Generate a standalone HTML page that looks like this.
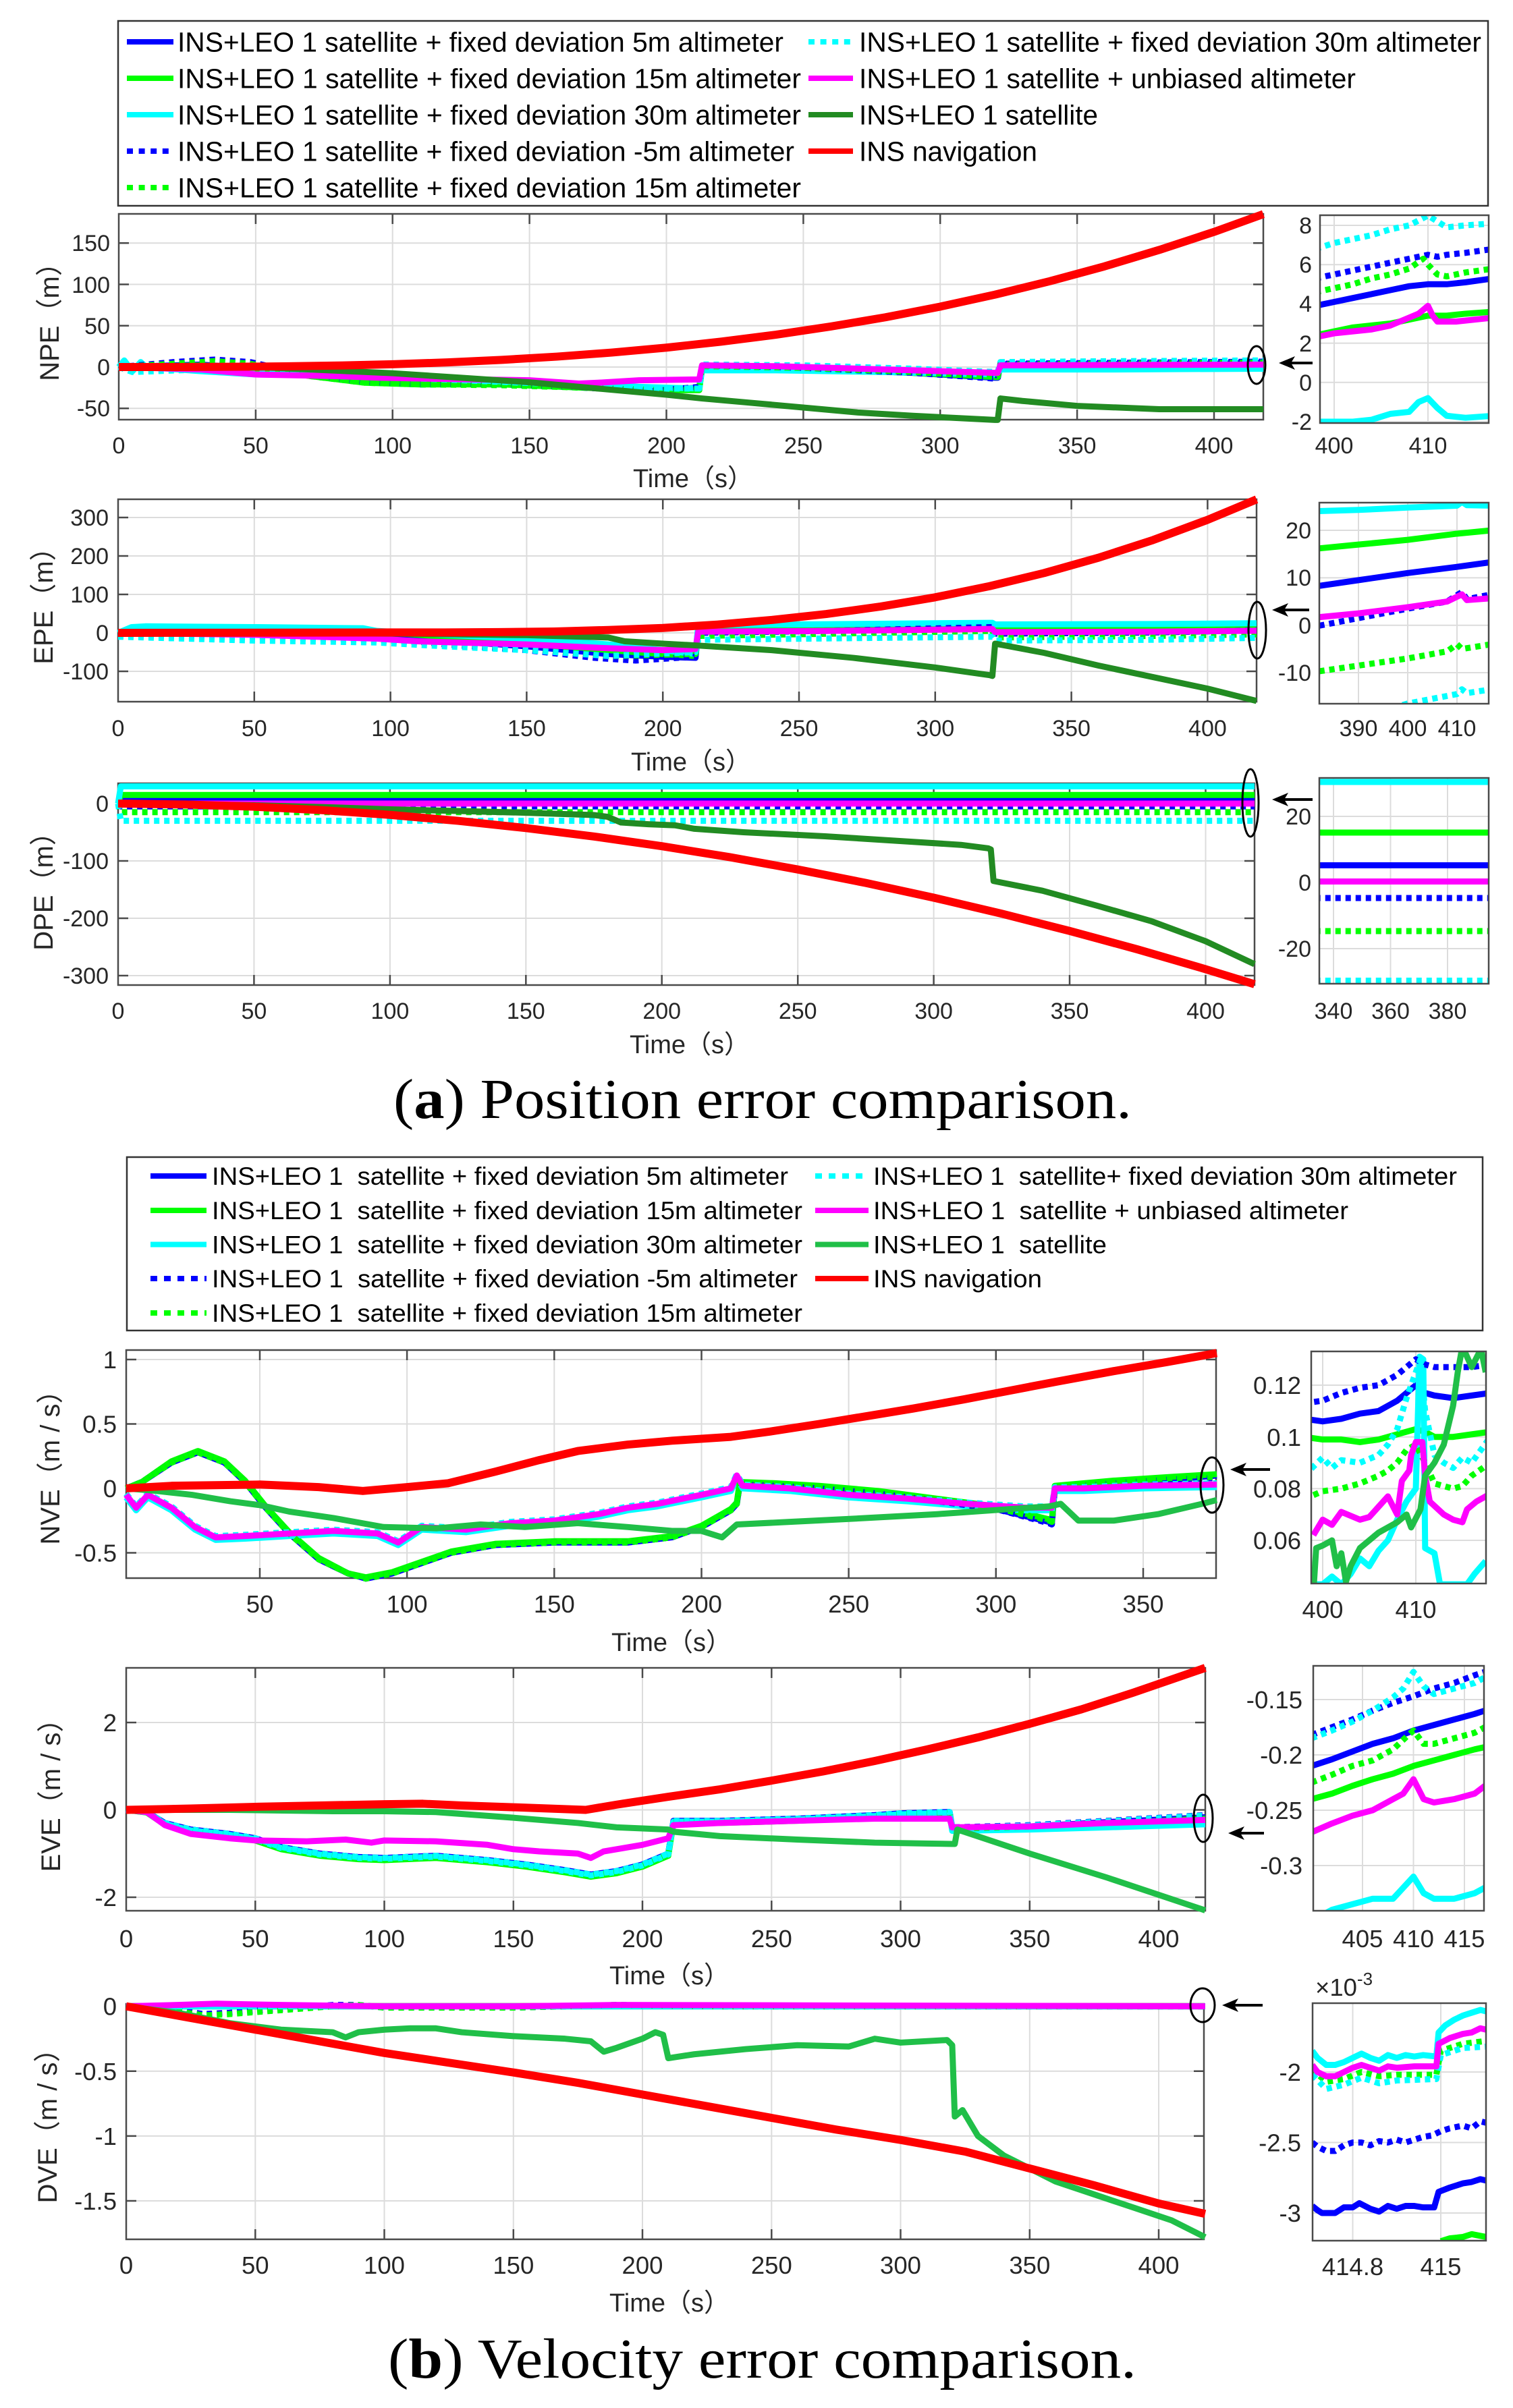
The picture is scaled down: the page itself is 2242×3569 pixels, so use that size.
<!DOCTYPE html>
<html><head><meta charset="utf-8">
<style>
html,body{margin:0;padding:0;background:#fff;}
svg{display:block;}
.gr{fill:none;stroke:#dcdcdc;stroke-width:2}
.ax{fill:none;stroke:#4a4a4a;stroke-width:2.5}
.tk{fill:none;stroke:#4a4a4a;stroke-width:2.5}
.c{fill:none;vector-effect:non-scaling-stroke;stroke-linejoin:round;stroke-width:9}
.d{stroke-dasharray:8 7}
.r{stroke-width:12}
.B{stroke:#0000ff}.G{stroke:#00ff00}.C{stroke:#00ffff}.M{stroke:#ff00ff}.R{stroke:#ff0000}.DG{stroke:#228b22}.VG{stroke:#20bf48}
.t1{font-family:"Liberation Sans",sans-serif;font-size:34px;fill:#262626}
.t2{font-family:"Liberation Sans",sans-serif;font-size:36.5px;fill:#262626}
.yl{font-family:"Liberation Sans","Noto Sans CJK SC",sans-serif;font-size:40px;fill:#262626}
.lg1{font-family:"Liberation Sans",sans-serif;font-size:40.5px;fill:#000;white-space:pre}
.lg2{font-family:"Liberation Sans",sans-serif;font-size:37px;fill:#000;white-space:pre}
.cap{font-family:"Liberation Serif",serif;font-size:84px;fill:#000}
.lgl{stroke-width:8;fill:none}
</style></head>
<body>
<svg xmlns="http://www.w3.org/2000/svg" width="2242" height="3569" viewBox="0 0 2242 3569">
<rect width="2242" height="3569" fill="#fff"/>
<defs>
<clipPath id="k1"><rect x="1956" y="319" width="250" height="308"/></clipPath>
<clipPath id="k2"><rect x="1955" y="745" width="251" height="298"/></clipPath>
<clipPath id="k3"><rect x="1955" y="1153" width="251" height="305"/></clipPath>
<clipPath id="k4"><rect x="1943" y="2003" width="259" height="344"/></clipPath>
<clipPath id="k5"><rect x="1946" y="2469" width="253" height="363"/></clipPath>
<clipPath id="k6"><rect x="1945" y="2969" width="257" height="352"/></clipPath>
</defs>

<!-- ============ LEGEND (a) ============ -->
<rect x="175" y="31" width="2030" height="274" fill="#fff" stroke="#333" stroke-width="2.5"/>
<line x1="188" y1="62" x2="257" y2="62" class="lgl" stroke="#0000ff"/>
<line x1="188" y1="116" x2="257" y2="116" class="lgl" stroke="#00ff00"/>
<line x1="188" y1="170" x2="257" y2="170" class="lgl" stroke="#00ffff"/>
<line x1="188" y1="224" x2="257" y2="224" class="lgl" stroke="#0000ff" stroke-dasharray="9 8.6"/>
<line x1="188" y1="278" x2="257" y2="278" class="lgl" stroke="#00ff00" stroke-dasharray="9 8.6"/>
<line x1="1198" y1="62" x2="1264" y2="62" class="lgl" stroke="#00ffff" stroke-dasharray="9 8.6"/>
<line x1="1198" y1="116" x2="1264" y2="116" class="lgl" stroke="#ff00ff"/>
<line x1="1198" y1="170" x2="1264" y2="170" class="lgl" stroke="#228b22"/>
<line x1="1198" y1="224" x2="1264" y2="224" class="lgl" stroke="#ff0000"/>
<text class="lg1" x="263" y="76.5" textLength="898" lengthAdjust="spacingAndGlyphs">INS+LEO 1 satellite + fixed deviation 5m altimeter</text>
<text class="lg1" x="263" y="130.5" textLength="924" lengthAdjust="spacingAndGlyphs">INS+LEO 1 satellite + fixed deviation 15m altimeter</text>
<text class="lg1" x="263" y="184.5" textLength="924" lengthAdjust="spacingAndGlyphs">INS+LEO 1 satellite + fixed deviation 30m altimeter</text>
<text class="lg1" x="263" y="238.5" textLength="914" lengthAdjust="spacingAndGlyphs">INS+LEO 1 satellite + fixed deviation -5m altimeter</text>
<text class="lg1" x="263" y="292.5" textLength="924" lengthAdjust="spacingAndGlyphs">INS+LEO 1 satellite + fixed deviation 15m altimeter</text>
<text class="lg1" x="1273" y="76.5" textLength="922" lengthAdjust="spacingAndGlyphs">INS+LEO 1 satellite + fixed deviation 30m altimeter</text>
<text class="lg1" x="1273" y="130.5" textLength="736" lengthAdjust="spacingAndGlyphs">INS+LEO 1 satellite + unbiased altimeter</text>
<text class="lg1" x="1273" y="184.5" textLength="354" lengthAdjust="spacingAndGlyphs">INS+LEO 1 satellite</text>
<text class="lg1" x="1273" y="238.5" textLength="264" lengthAdjust="spacingAndGlyphs">INS navigation</text>

<!-- ============ NPE ============ -->
<path class="gr" d="M378.9 317V622M581.7 317V622M784.6 317V622M987.5 317V622M1190.4 317V622M1393.2 317V622M1596.1 317V622M1799 317V622M176 360.25H1872M176 421.5H1872M176 482.75H1872M176 544H1872M176 605.25H1872"/>
<rect class="ax" x="176" y="317" width="1696" height="305"/>
<path class="tk" d="M378.9 622v-15M581.7 622v-15M784.6 622v-15M987.5 622v-15M1190.4 622v-15M1393.2 622v-15M1596.1 622v-15M1799 622v-15M378.9 317v15M581.7 317v15M784.6 317v15M987.5 317v15M1190.4 317v15M1393.2 317v15M1596.1 317v15M1799 317v15M176 360.25h15M176 421.5h15M176 482.75h15M176 544h15M176 605.25h15M1872 360.25h-15M1872 421.5h-15M1872 482.75h-15M1872 544h-15M1872 605.25h-15"/>
<g transform="translate(176,544) scale(4.0574,-1.225)">
<polyline class="c B" points="0,0 30,3 50,-2 70,-10 90,-17 110,-20 140,-21 170,-24 200,-27 212,-25 213,1 250,-2 290,-7 320,-13 321,-13 322,3 360,3.5 400,4 418,5"/>
<polyline class="c G" points="0,0 30,2 50,-2 70,-11 90,-19 110,-21 140,-21 170,-25 200,-28 212,-28 213,0.5 250,-2 290,-7 320,-12 321,-12 322,2 418,3.5"/>
<polyline class="c C" points="0,0 2,8 5,-5 8,6 10,0 30,-5 50,-9 80,-10 100,-12 130,-16 160,-20 190,-24 212,-26 213,-4 240,-4 280,-6 320,-9 321,-9 322,-3 360,-3 418,-2"/>
<polyline class="c d B" points="0,0 20,6 35,9 48,6 70,-10 90,-18 110,-21 140,-21 170,-25 195,-29 212,-24 213,2 250,-1 290,-7 320,-14 321,-14 322,4 360,5 418,6.5"/>
<polyline class="c d G" points="0,0 20,4 35,7 48,4 70,-11 90,-19 110,-21 140,-22 170,-25 200,-28 212,-27 213,1 250,-1 290,-6 320,-12 321,-12 322,3 418,5.5"/>
<polyline class="c d C" points="0,0 5,-6 30,-3 50,-6 80,-11 110,-14 140,-18 170,-22 200,-26 212,-26 213,3 250,2 290,-2 320,-6 321,-6 322,6 360,7 418,8"/>
<polyline class="c M" points="0,0 30,-3 50,-9 80,-11 95,-13 130,-15 150,-16 168,-20 175,-19 190,-16 212,-15 213,2 240,1 280,-3 320,-7 321,-7 322,2 360,2.5 418,3"/>
<polyline class="c DG" points="0,0 20,0 40,0 50,0 70,-3 100,-7.5 125,-13 150,-18.5 175,-26 200,-33.5 213,-38 230,-43 270,-55 290,-59 320,-64 321,-64 322,-38 330,-41 350,-47 380,-51 418,-51"/>
<polyline class="c r R" points="0,0 20,0.04 40,0.26 60,0.81 80,1.8 100,3.4 120,5.6 140,8.7 160,12.6 180,17.5 200,23.5 220,30.7 240,39.1 260,49 280,60.2 300,73.1 320,87.6 340,103.8 360,121.8 380,141.7 400,163.5 418,185"/>
</g>
<g class="t1" text-anchor="end">
<text x="163" y="372">150</text><text x="163" y="434">100</text><text x="163" y="495">50</text><text x="163" y="556">0</text><text x="163" y="617">-50</text>
</g>
<g class="t1" text-anchor="middle">
<text x="176" y="672">0</text><text x="378.9" y="672">50</text><text x="581.7" y="672">100</text><text x="784.6" y="672">150</text><text x="987.5" y="672">200</text><text x="1190.4" y="672">250</text><text x="1393.2" y="672">300</text><text x="1596.1" y="672">350</text><text x="1799" y="672">400</text>
</g>
<text class="yl" text-anchor="middle" transform="translate(87,467) rotate(-90)">NPE（m）</text>
<text class="yl" text-anchor="middle" x="1027" y="722" style="font-size:38px">Time（s）</text>
<!-- NPE inset -->
<path class="gr" d="M1977 319V627M2116 319V627M1956 334H2206M1956 392.2H2206M1956 450.4H2206M1956 508.6H2206M1956 566.8H2206M1956 625H2206"/>
<g clip-path="url(#k1)"><g transform="translate(-3583,566.8) scale(13.9,-29.1)">
<polyline class="c B" points="398,3.9 400,4.1 402,4.3 404,4.5 406,4.7 408,4.9 410,5 412,5 414,5.1 417,5.3"/>
<polyline class="c G" points="398,2.4 400,2.6 402,2.8 404,2.9 406,3 408,3.2 410,3.4 412,3.4 414,3.5 417,3.6"/>
<polyline class="c C" points="398,-2 400,-2 402,-2 404,-1.9 406,-1.6 408,-1.5 409,-1 410,-0.8 411,-1.3 412,-1.7 414,-1.8 417,-1.7"/>
<polyline class="c d B" points="398,5.3 400,5.5 402,5.7 404,5.9 406,6.1 408,6.3 410,6.5 411,6.4 412,6.5 414,6.6 417,6.8"/>
<polyline class="c d G" points="398,4.6 400,4.8 402,5 404,5.3 406,5.5 408,5.8 409.5,6.3 410,6 411,5.5 412,5.4 414,5.6 417,5.8"/>
<polyline class="c d C" points="398,6.8 400,7.1 402,7.3 404,7.5 406,7.8 408,8 410,8.5 411,8.2 412,7.9 414,8 417,8.1"/>
<polyline class="c M" points="398,2.3 400,2.5 402,2.6 404,2.7 406,2.9 408,3.3 409,3.5 410,3.9 410.5,3.4 411,3.1 413,3.1 415,3.2 417,3.3"/>
</g></g>
<rect class="ax" x="1956" y="319" width="250" height="308"/>
<g class="t1" text-anchor="end">
<text x="1944" y="346">8</text><text x="1944" y="404">6</text><text x="1944" y="462">4</text><text x="1944" y="521">2</text><text x="1944" y="579">0</text><text x="1944" y="637">-2</text>
</g>
<g class="t1" text-anchor="middle"><text x="1977" y="672">400</text><text x="2116" y="672">410</text></g>
<ellipse cx="1862" cy="541" rx="13" ry="28" fill="none" stroke="#000" stroke-width="3"/>
<line x1="1945" y1="538" x2="1910" y2="538" stroke="#000" stroke-width="4"/>
<polygon points="1895,538 1919,528 1913,538 1919,548" fill="#000"/>

<!-- ============ EPE ============ -->
<path class="gr" d="M376.8 740V1040M578.6 740V1040M780.4 740V1040M982.2 740V1040M1184 740V1040M1385.8 740V1040M1587.6 740V1040M1789.4 740V1040M175 767H1862M175 824H1862M175 881H1862M175 938H1862M175 995H1862"/>
<rect class="ax" x="175" y="740" width="1687" height="300"/>
<path class="tk" d="M376.8 1040v-15M578.6 1040v-15M780.4 1040v-15M982.2 1040v-15M1184 1040v-15M1385.8 1040v-15M1587.6 1040v-15M1789.4 1040v-15M376.8 740v15M578.6 740v15M780.4 740v15M982.2 740v15M1184 740v15M1385.8 740v15M1587.6 740v15M1789.4 740v15M175 767h15M175 824h15M175 881h15M175 938h15M175 995h15M1862 767h-15M1862 824h-15M1862 881h-15M1862 938h-15M1862 995h-15"/>
<g transform="translate(175,938) scale(4.0359,-0.57)">
<polyline class="c B" points="0,0 50,2 95,-5 120,-20 150,-35 180,-55 200,-62 212,-65 213,5 260,8 320,12 321,12 322,5 380,9 418,13"/>
<polyline class="c G" points="0,0 10,8 50,7 95,3 120,-10 150,-25 180,-45 200,-55 212,-60 213,12 260,14 320,18 321,18 322,12 380,16 418,20"/>
<polyline class="c C" points="0,0 5,15 10,17 50,15 90,12 95,5 120,-5 150,-15 180,-30 200,-45 212,-55 213,20 250,22 300,25 320,26 321,26 322,22 380,23 418,25"/>
<polyline class="c d B" points="0,0 50,-5 95,-12 120,-30 150,-45 175,-65 190,-72 212,-62 213,0 260,5 320,15 321,15 322,-2 380,1 418,6.5"/>
<polyline class="c d G" points="0,-5 50,-10 95,-18 120,-28 150,-40 180,-60 212,-55 213,-8 320,5 321,5 322,-12 380,-8 418,-4"/>
<polyline class="c d C" points="0,-10 50,-20 95,-25 120,-35 150,-45 180,-60 212,-50 213,-18 320,-10 321,-10 322,-20 380,-18 418,-13"/>
<polyline class="c M" points="0,0 50,-5 95,-15 110,-22 150,-30 180,-40 200,-45 212,-42 213,3 260,5 320,10 321,10 322,2 380,3 418,5.5"/>
<polyline class="c DG" points="0,0 50,0 100,-2 150,-6 180,-12 186,-22 200,-28 213,-33 240,-45 270,-65 300,-90 320,-110 321,-112 322,-28 340,-52 360,-85 380,-115 400,-145 418,-177"/>
<polyline class="c r R" points="0,0 50,0.5 100,1 120,1.2 140,1.9 160,3.5 180,7.5 200,12.8 220,21.6 240,33.5 260,49 280,68.5 300,92.5 320,121.5 340,155.6 360,195.5 380,241.4 400,293.9 418,347"/>
</g>
<g class="t1" text-anchor="end">
<text x="161" y="779">300</text><text x="161" y="836">200</text><text x="161" y="893">100</text><text x="161" y="950">0</text><text x="161" y="1007">-100</text>
</g>
<g class="t1" text-anchor="middle">
<text x="175" y="1091">0</text><text x="376.8" y="1091">50</text><text x="578.6" y="1091">100</text><text x="780.4" y="1091">150</text><text x="982.2" y="1091">200</text><text x="1184" y="1091">250</text><text x="1385.8" y="1091">300</text><text x="1587.6" y="1091">350</text><text x="1789.4" y="1091">400</text>
</g>
<text class="yl" text-anchor="middle" transform="translate(78,888) rotate(-90)">EPE（m）</text>
<text class="yl" text-anchor="middle" x="1024" y="1142" style="font-size:38px">Time（s）</text>
<!-- EPE inset -->
<path class="gr" d="M2013 745V1043M2086 745V1043M2159 745V1043M1955 786H2206M1955 856.4H2206M1955 926.7H2206M1955 997H2206"/>
<g clip-path="url(#k2)"><g transform="translate(-834,926.7) scale(7.3,-7.033)">
<polyline class="c B" points="380,8 390,9.5 400,11 410,12.3 417,13.3"/>
<polyline class="c G" points="380,16 390,17 400,18 410,19.3 417,20"/>
<polyline class="c C" points="380,24 390,24.3 400,24.8 410,25.2 411,26 412,25.3 417,25.2"/>
<polyline class="c d B" points="380,-0.5 390,1.5 400,3.5 408,5 411,7 412,5.5 417,6.5"/>
<polyline class="c d G" points="380,-10 390,-8.5 400,-7 408,-5.5 410,-4 411,-5 417,-4"/>
<polyline class="c d C" points="395,-18 400,-16.5 405,-15.5 410,-14.5 411,-13.5 412,-14.3 417,-13.5"/>
<polyline class="c M" points="380,1.5 390,2.5 400,3.8 408,5 411,6.5 412,5.3 417,5.7"/>
</g></g>
<rect class="ax" x="1955" y="745" width="251" height="298"/>
<g class="t1" text-anchor="end">
<text x="1943" y="798">20</text><text x="1943" y="868">10</text><text x="1943" y="939">0</text><text x="1943" y="1009">-10</text>
</g>
<g class="t1" text-anchor="middle"><text x="2013" y="1091">390</text><text x="2086" y="1091">400</text><text x="2159" y="1091">410</text></g>
<ellipse cx="1863" cy="934" rx="13" ry="42" fill="none" stroke="#000" stroke-width="3"/>
<line x1="1940" y1="904" x2="1900" y2="904" stroke="#000" stroke-width="4"/>
<polygon points="1885,904 1909,894 1903,904 1909,914" fill="#000"/>

<!-- ============ DPE ============ -->
<path class="gr" d="M376.4 1161V1460M577.9 1161V1460M779.3 1161V1460M980.7 1161V1460M1182.2 1161V1460M1383.6 1161V1460M1585 1161V1460M1786.5 1161V1460M175 1191H1859M175 1276H1859M175 1361H1859M175 1446H1859"/>
<rect class="ax" x="175" y="1161" width="1684" height="299"/>
<path class="tk" d="M376.4 1460v-15M577.9 1460v-15M779.3 1460v-15M980.7 1460v-15M1182.2 1460v-15M1383.6 1460v-15M1585 1460v-15M1786.5 1460v-15M376.4 1161v15M577.9 1161v15M779.3 1161v15M980.7 1161v15M1182.2 1161v15M1383.6 1161v15M1585 1161v15M1786.5 1161v15M175 1191h15M175 1276h15M175 1361h15M175 1446h15M1859 1191h-15M1859 1276h-15M1859 1361h-15M1859 1446h-15"/>
<g transform="translate(175,1191) scale(4.0287,-0.85)">
<polyline class="c B" points="0,0 1,5 418,5"/>
<polyline class="c G" points="0,0 1,15 418,15"/>
<polyline class="c C" points="0,0 1,30 418,30"/>
<polyline class="c d B" points="0,0 1,-5 418,-5"/>
<polyline class="c d G" points="0,0 1,-15 418,-15"/>
<polyline class="c d C" points="0,0 1,-30 418,-30"/>
<polyline class="c M" points="0,0 418,0"/>
<polyline class="c DG" points="0,0 25,-1 50,-3 75,-6 100,-10 125,-13 150,-16 175,-20 180,-23 185,-33 195,-36 205,-38 212,-44 230,-50 260,-57 290,-66 310,-72 320,-78 321,-80 322,-135 340,-152 360,-178 380,-205 400,-240 418,-280"/>
<polyline class="c r R" points="0,0 25,-1.6 50,-5.5 75,-11.5 100,-19.7 125,-30.1 150,-42.7 175,-57.4 200,-74.4 225,-93.5 250,-114.9 275,-138.4 300,-164.1 325,-192 350,-222.1 375,-254.3 400,-288.8 418,-315"/>
</g>
<g class="t1" text-anchor="end">
<text x="161" y="1203">0</text><text x="161" y="1288">-100</text><text x="161" y="1373">-200</text><text x="161" y="1458">-300</text>
</g>
<g class="t1" text-anchor="middle">
<text x="175" y="1510">0</text><text x="376.4" y="1510">50</text><text x="577.9" y="1510">100</text><text x="779.3" y="1510">150</text><text x="980.7" y="1510">200</text><text x="1182.2" y="1510">250</text><text x="1383.6" y="1510">300</text><text x="1585" y="1510">350</text><text x="1786.5" y="1510">400</text>
</g>
<text class="yl" text-anchor="middle" transform="translate(78,1311) rotate(-90)">DPE（m）</text>
<text class="yl" text-anchor="middle" x="1022" y="1561" style="font-size:38px">Time（s）</text>
<!-- DPE inset -->
<path class="gr" d="M1976 1153V1458M2060.5 1153V1458M2145 1153V1458M1955 1210H2206M1955 1308H2206M1955 1406H2206"/>
<g clip-path="url(#k3)"><g transform="translate(539.5,1308) scale(4.225,-4.9)">
<polyline class="c B" points="330,5.2 400,5.2"/>
<polyline class="c G" points="330,15.1 400,15.1"/>
<polyline class="c C" points="330,30.4 400,30.4"/>
<polyline class="c d B" points="330,-4.7 400,-4.7"/>
<polyline class="c d G" points="330,-14.7 400,-14.7"/>
<polyline class="c d C" points="330,-29.7 400,-29.7"/>
<polyline class="c M" points="330,0.3 400,0.3"/>
</g></g>
<rect class="ax" x="1955" y="1153" width="251" height="305"/>
<g class="t1" text-anchor="end">
<text x="1943" y="1222">20</text><text x="1943" y="1320">0</text><text x="1943" y="1418">-20</text>
</g>
<g class="t1" text-anchor="middle"><text x="1976" y="1510">340</text><text x="2060.5" y="1510">360</text><text x="2145" y="1510">380</text></g>
<ellipse cx="1853" cy="1190" rx="12" ry="50" fill="none" stroke="#000" stroke-width="3"/>
<line x1="1945" y1="1185" x2="1900" y2="1185" stroke="#000" stroke-width="4"/>
<polygon points="1885,1185 1909,1175 1903,1185 1909,1195" fill="#000"/>

<!-- Caption (a) -->
<text class="cap" x="583" y="1657" textLength="1094" lengthAdjust="spacingAndGlyphs">(<tspan font-weight="bold">a</tspan>) Position error comparison.</text>

<!-- ============ LEGEND (b) ============ -->
<rect x="188" y="1715" width="2009" height="257" fill="#fff" stroke="#333" stroke-width="2.5"/>
<line x1="223" y1="1743" x2="306" y2="1743" class="lgl" stroke="#0000ff"/>
<line x1="223" y1="1794" x2="306" y2="1794" class="lgl" stroke="#00ff00"/>
<line x1="223" y1="1844.5" x2="306" y2="1844.5" class="lgl" stroke="#00ffff"/>
<line x1="223" y1="1895" x2="306" y2="1895" class="lgl" stroke="#0000ff" stroke-dasharray="10 10"/>
<line x1="223" y1="1946" x2="306" y2="1946" class="lgl" stroke="#00ff00" stroke-dasharray="10 10"/>
<line x1="1208" y1="1743" x2="1287" y2="1743" class="lgl" stroke="#00ffff" stroke-dasharray="10 10"/>
<line x1="1208" y1="1794" x2="1287" y2="1794" class="lgl" stroke="#ff00ff"/>
<line x1="1208" y1="1844.5" x2="1287" y2="1844.5" class="lgl" stroke="#20bf48"/>
<line x1="1208" y1="1895" x2="1287" y2="1895" class="lgl" stroke="#ff0000"/>
<text class="lg2" x="314" y="1756" textLength="854" lengthAdjust="spacingAndGlyphs">INS+LEO 1&#160; satellite + fixed deviation 5m altimeter</text>
<text class="lg2" x="314" y="1807" textLength="875" lengthAdjust="spacingAndGlyphs">INS+LEO 1&#160; satellite + fixed deviation 15m altimeter</text>
<text class="lg2" x="314" y="1857.5" textLength="875" lengthAdjust="spacingAndGlyphs">INS+LEO 1&#160; satellite + fixed deviation 30m altimeter</text>
<text class="lg2" x="314" y="1908" textLength="868" lengthAdjust="spacingAndGlyphs">INS+LEO 1&#160; satellite + fixed deviation -5m altimeter</text>
<text class="lg2" x="314" y="1959" textLength="875" lengthAdjust="spacingAndGlyphs">INS+LEO 1&#160; satellite + fixed deviation 15m altimeter</text>
<text class="lg2" x="1294" y="1756" textLength="865" lengthAdjust="spacingAndGlyphs">INS+LEO 1&#160; satellite+ fixed deviation 30m altimeter</text>
<text class="lg2" x="1294" y="1807" textLength="704" lengthAdjust="spacingAndGlyphs">INS+LEO 1&#160; satellite + unbiased altimeter</text>
<text class="lg2" x="1294" y="1857.5" textLength="346" lengthAdjust="spacingAndGlyphs">INS+LEO 1&#160; satellite</text>
<text class="lg2" x="1294" y="1908" textLength="250" lengthAdjust="spacingAndGlyphs">INS navigation</text>

<!-- ============ NVE ============ -->
<path class="gr" d="M385 2001V2339M603.1 2001V2339M821.3 2001V2339M1039.5 2001V2339M1257.6 2001V2339M1475.8 2001V2339M1694 2001V2339M187 2015H1802M187 2110.5H1802M187 2206H1802M187 2301.5H1802"/>
<rect class="ax" x="187" y="2001" width="1615" height="338"/>
<path class="tk" d="M385 2339v-15M603.1 2339v-15M821.3 2339v-15M1039.5 2339v-15M1257.6 2339v-15M1475.8 2339v-15M1694 2339v-15M385 2001v15M603.1 2001v15M821.3 2001v15M1039.5 2001v15M1257.6 2001v15M1475.8 2001v15M1694 2001v15M187 2015h15M187 2110.5h15M187 2206h15M187 2301.5h15M1802 2015h-15M1802 2110.5h-15M1802 2206h-15M1802 2301.5h-15"/>
<g transform="translate(166.8,2206) scale(4.3633,-191)">
<polyline class="c B" points="4.6,0 10,0.05 20,0.2 29,0.28 38,0.2 45,0.05 52,-0.15 60,-0.35 70,-0.55 80,-0.66 86,-0.7 95,-0.66 105,-0.58 115,-0.5 130,-0.44 150,-0.42 175,-0.42 190,-0.38 200,-0.3 210,-0.17 212,-0.12 213,0.03 225,0.02 240,0 260,-0.04 280,-0.1 300,-0.16 318,-0.26 319,-0.27 320,0 340,0.04 360,0.07 375,0.1"/>
<polyline class="c G" points="4.6,0 10,0.05 20,0.21 29,0.29 38,0.21 45,0.06 52,-0.14 60,-0.34 70,-0.54 80,-0.66 86,-0.69 95,-0.65 105,-0.57 115,-0.49 130,-0.43 150,-0.41 175,-0.41 190,-0.37 200,-0.29 210,-0.16 212,-0.11 213,0.05 225,0.04 240,0.02 260,-0.02 280,-0.08 300,-0.14 318,-0.24 319,-0.25 320,0.02 340,0.06 360,0.09 375,0.11"/>
<polyline class="c C" points="4.6,-0.07 8,-0.17 12,-0.07 20,-0.17 28,-0.32 35,-0.4 45,-0.39 60,-0.37 75,-0.35 90,-0.37 97,-0.44 105,-0.32 120,-0.34 135,-0.29 150,-0.27 165,-0.22 175,-0.17 185,-0.14 200,-0.07 210,-0.02 212,0.08 214,0 230,-0.02 250,-0.07 270,-0.1 290,-0.14 310,-0.17 318,-0.17 319,-0.17 320,-0.02 330,-0.02 350,0 375,0.01"/>
<polyline class="c d B" points="4.6,0 10,0.05 20,0.2 29,0.28 38,0.2 45,0.05 52,-0.15 60,-0.35 70,-0.55 80,-0.66 86,-0.7 95,-0.66 105,-0.58 115,-0.5 130,-0.44 150,-0.42 175,-0.42 190,-0.38 200,-0.3 210,-0.17 212,-0.12 213,0.03 225,0.02 240,0 260,-0.04 280,-0.1 300,-0.16 318,-0.27 319,-0.28 320,0 340,0.04 360,0.07 375,0.08"/>
<polyline class="c d G" points="4.6,0 10,0.05 20,0.2 29,0.28 38,0.2 45,0.05 52,-0.15 60,-0.35 70,-0.55 80,-0.66 86,-0.7 95,-0.66 105,-0.58 115,-0.5 130,-0.44 150,-0.42 175,-0.42 190,-0.38 200,-0.3 210,-0.17 212,-0.12 213,0.04 225,0.03 240,0.01 260,-0.03 280,-0.09 300,-0.15 318,-0.25 319,-0.26 320,0.01 340,0.05 360,0.08 375,0.09"/>
<polyline class="c d C" points="4.6,-0.04 8,-0.14 12,-0.04 20,-0.14 28,-0.29 35,-0.37 45,-0.36 60,-0.34 75,-0.32 90,-0.34 97,-0.41 105,-0.29 120,-0.31 135,-0.26 150,-0.24 165,-0.19 175,-0.14 185,-0.11 200,-0.04 210,0.01 212,0.11 214,0.03 230,0.01 250,-0.04 270,-0.07 290,-0.11 310,-0.14 318,-0.14 319,-0.14 320,0.01 330,0.01 350,0.03 375,0.04"/>
<polyline class="c M" points="4.6,-0.05 8,-0.15 12,-0.05 20,-0.15 28,-0.3 35,-0.38 45,-0.37 60,-0.35 75,-0.33 90,-0.35 97,-0.42 105,-0.3 120,-0.32 135,-0.27 150,-0.25 165,-0.2 175,-0.15 185,-0.12 200,-0.05 210,0 212,0.1 214,0.02 230,0 250,-0.05 270,-0.08 290,-0.12 310,-0.15 318,-0.15 319,-0.15 320,0 330,0 350,0.02 375,0.03"/>
<polyline class="c VG" points="4.6,0 15,-0.02 27,-0.05 40,-0.1 50,-0.13 60,-0.18 75,-0.23 92,-0.3 110,-0.31 125,-0.28 140,-0.3 158,-0.27 175,-0.3 190,-0.33 200,-0.33 207,-0.38 212,-0.28 230,-0.26 256,-0.23 280,-0.2 305,-0.16 318,-0.14 322,-0.12 328,-0.25 340,-0.25 355,-0.2 370,-0.12 375,-0.09"/>
<polyline class="c r R" points="4.6,0 20,0.02 50,0.03 70,0.01 85,-0.02 100,0.01 114,0.04 130,0.13 145,0.22 158,0.29 175,0.34 190,0.37 210,0.4 223,0.44 240,0.5 256,0.56 272,0.62 289,0.69 305,0.76 321,0.83 340,0.91 358,0.98 375,1.05"/>
</g>
<g class="t2" text-anchor="end">
<text x="173" y="2028">1</text><text x="173" y="2123.5">0.5</text><text x="173" y="2219">0</text><text x="173" y="2314.5">-0.5</text>
</g>
<g class="t2" text-anchor="middle">
<text x="385" y="2390">50</text><text x="603.1" y="2390">100</text><text x="821.3" y="2390">150</text><text x="1039.5" y="2390">200</text><text x="1257.6" y="2390">250</text><text x="1475.8" y="2390">300</text><text x="1694" y="2390">350</text>
</g>
<text class="yl" text-anchor="middle" transform="translate(88,2165) rotate(-90)">NVE（m / s）</text>
<text class="yl" text-anchor="middle" x="995" y="2447" style="font-size:38px">Time（s）</text>
<!-- NVE inset -->
<path class="gr" d="M1960 2003V2347M2098 2003V2347M1943 2053H2202M1943 2129.7H2202M1943 2206.4H2202M1943 2283H2202"/>
<g clip-path="url(#k4)"><g transform="translate(-3560,2513) scale(13.8,-3833)">
<polyline class="c B" points="398,0.107 400,0.106 402,0.107 404,0.109 406,0.11 408,0.114 410,0.12 411,0.117 412,0.116 414,0.115 416,0.116 418,0.117"/>
<polyline class="c G" points="398,0.1 400,0.099 402,0.099 404,0.098 406,0.099 408,0.101 410,0.103 411,0.102 412,0.1 414,0.1 416,0.101 418,0.102"/>
<polyline class="c C" points="398,0.043 400,0.043 401,0.046 402,0.043 403,0.047 404,0.053 405,0.05 406,0.056 407,0.06 408,0.068 409,0.075 410,0.08 410.4,0.131 410.8,0.13 411,0.057 412,0.055 412.6,0.043 415.5,0.043 416.3,0.047 417.5,0.052"/>
<polyline class="c d B" points="398,0.113 400,0.114 402,0.117 404,0.119 406,0.12 408,0.124 409,0.127 410,0.13 411,0.128 412,0.127 414,0.127 416,0.127 418,0.128"/>
<polyline class="c d G" points="398,0.076 400,0.079 402,0.08 404,0.082 406,0.085 407,0.087 408,0.09 409,0.095 410,0.097 411,0.09 412,0.082 414,0.08 415,0.081 416,0.085 418,0.09"/>
<polyline class="c d C" points="398,0.085 400,0.092 401,0.088 402,0.091 404,0.09 406,0.093 407,0.097 408,0.103 409,0.115 410,0.125 410.5,0.13 411,0.11 412,0.093 413,0.09 414,0.088 415,0.092 416,0.09 418,0.1"/>
<polyline class="c M" points="399,0.062 400,0.068 401,0.066 402,0.071 404,0.068 405,0.069 406,0.073 407,0.077 408,0.07 408.5,0.083 409.3,0.087 409.5,0.093 410,0.098 410.7,0.098 411,0.085 411.5,0.075 413,0.07 414,0.068 415,0.067 415.5,0.072 416.5,0.075 418,0.078"/>
<polyline class="c VG" points="399,0.04 399.3,0.057 400,0.058 401,0.06 401.5,0.05 402,0.055 402.5,0.044 403,0.05 404,0.057 406,0.063 408,0.067 409,0.07 409.5,0.065 410.5,0.072 411,0.085 412,0.09 413,0.097 414,0.112 414.5,0.125 415,0.135 416,0.127 417,0.134 417.5,0.125"/>
</g></g>
<rect class="ax" x="1943" y="2003" width="259" height="344"/>
<g class="t2" text-anchor="end">
<text x="1928" y="2066">0.12</text><text x="1928" y="2143">0.1</text><text x="1928" y="2219.5">0.08</text><text x="1928" y="2296">0.06</text>
</g>
<g class="t2" text-anchor="middle"><text x="1960" y="2398">400</text><text x="2098" y="2398">410</text></g>
<ellipse cx="1796" cy="2201" rx="17" ry="41" fill="none" stroke="#000" stroke-width="3"/>
<line x1="1882" y1="2178" x2="1838" y2="2178" stroke="#000" stroke-width="4"/>
<polygon points="1823,2178 1847,2168 1841,2178 1847,2188" fill="#000"/>

<!-- ============ EVE ============ -->
<path class="gr" d="M378.3 2472V2832M569.5 2472V2832M760.8 2472V2832M952 2472V2832M1143.3 2472V2832M1334.5 2472V2832M1525.8 2472V2832M1717 2472V2832M187 2553H1786M187 2682.5H1786M187 2812H1786"/>
<rect class="ax" x="187" y="2472" width="1599" height="360"/>
<path class="tk" d="M378.3 2832v-15M569.5 2832v-15M760.8 2832v-15M952 2832v-15M1143.3 2832v-15M1334.5 2832v-15M1525.8 2832v-15M1717 2832v-15M378.3 2472v15M569.5 2472v15M760.8 2472v15M952 2472v15M1143.3 2472v15M1334.5 2472v15M1525.8 2472v15M1717 2472v15M187 2553h15M187 2682.5h15M187 2812h15M1786 2553h-15M1786 2682.5h-15M1786 2812h-15"/>
<g transform="translate(187,2682.5) scale(3.825,-64.75)">
<polyline class="c B" points="0,0 8,-0.05 15,-0.3 25,-0.45 40,-0.55 50,-0.65 60,-0.85 75,-1 90,-1.08 100,-1.1 120,-1.05 140,-1.15 155,-1.25 170,-1.38 180,-1.48 190,-1.4 200,-1.25 208,-1.05 210,-1 212,-0.25 230,-0.25 260,-0.2 290,-0.12 300,-0.08 318,-0.05 319,-0.05 320,-0.42 350,-0.38 380,-0.28 418,-0.17"/>
<polyline class="c G" points="0,0 8,-0.06 15,-0.34 25,-0.5 40,-0.6 50,-0.7 60,-0.9 75,-1.05 90,-1.13 100,-1.15 120,-1.1 140,-1.2 155,-1.3 170,-1.43 180,-1.53 190,-1.45 200,-1.3 208,-1.1 210,-1.05 212,-0.3 230,-0.3 260,-0.25 290,-0.17 300,-0.13 318,-0.1 319,-0.1 320,-0.45 350,-0.42 380,-0.32 418,-0.2"/>
<polyline class="c C" points="0,0 8,-0.05 15,-0.32 25,-0.47 40,-0.57 50,-0.67 60,-0.87 75,-1.02 90,-1.1 100,-1.12 120,-1.07 140,-1.17 155,-1.27 170,-1.4 180,-1.5 190,-1.42 200,-1.27 208,-1.07 210,-1.02 212,-0.27 230,-0.27 260,-0.22 290,-0.14 300,-0.1 318,-0.07 319,-0.07 320,-0.48 350,-0.45 380,-0.4 418,-0.33"/>
<polyline class="c d B" points="0,0 8,-0.05 15,-0.3 25,-0.45 40,-0.55 50,-0.65 60,-0.85 75,-1 90,-1.08 100,-1.1 120,-1.05 140,-1.15 155,-1.25 170,-1.38 180,-1.48 190,-1.4 200,-1.25 208,-1.05 210,-1 212,-0.25 230,-0.25 260,-0.2 290,-0.12 300,-0.08 318,-0.05 319,-0.05 320,-0.4 350,-0.35 380,-0.25 418,-0.12"/>
<polyline class="c d G" points="0,0 8,-0.06 15,-0.32 25,-0.47 40,-0.57 50,-0.67 60,-0.87 75,-1.02 90,-1.1 100,-1.12 120,-1.07 140,-1.17 155,-1.27 170,-1.4 180,-1.5 190,-1.42 200,-1.27 208,-1.07 210,-1.02 212,-0.27 230,-0.27 260,-0.22 290,-0.14 300,-0.1 318,-0.07 319,-0.07 320,-0.43 350,-0.38 380,-0.28 418,-0.17"/>
<polyline class="c d C" points="0,0 8,-0.05 15,-0.3 25,-0.45 40,-0.55 50,-0.65 60,-0.85 75,-1 90,-1.08 100,-1.1 120,-1.05 140,-1.15 155,-1.25 170,-1.38 180,-1.48 190,-1.4 200,-1.25 208,-1.05 210,-1 212,-0.25 230,-0.25 260,-0.2 290,-0.12 300,-0.08 318,-0.05 319,-0.05 320,-0.41 350,-0.36 380,-0.26 418,-0.13"/>
<polyline class="c M" points="0,0 8,-0.05 15,-0.35 25,-0.55 40,-0.65 50,-0.7 70,-0.72 85,-0.68 95,-0.75 100,-0.7 120,-0.72 140,-0.8 150,-0.9 160,-0.95 175,-1 180,-1.1 185,-0.95 200,-0.8 210,-0.65 212,-0.35 230,-0.3 260,-0.25 290,-0.2 318,-0.2 319,-0.2 320,-0.4 350,-0.38 380,-0.3 418,-0.23"/>
<polyline class="c VG" points="0,0 40,0 80,-0.03 100,-0.03 120,-0.05 150,-0.18 175,-0.3 190,-0.4 210,-0.45 212,-0.5 230,-0.6 260,-0.68 290,-0.75 310,-0.77 320,-0.78 321,-0.78 322,-0.45 350,-1 380,-1.55 418,-2.3"/>
<polyline class="c r R" points="0,0 25,0.03 50,0.07 75,0.1 100,0.13 115,0.14 130,0.1 150,0.06 178,0 190,0.12 210,0.3 230,0.47 250,0.67 270,0.88 290,1.12 310,1.38 330,1.66 350,1.97 370,2.3 390,2.68 418,3.25"/>
</g>
<g class="t2" text-anchor="end">
<text x="173" y="2566">2</text><text x="173" y="2695.5">0</text><text x="173" y="2825">-2</text>
</g>
<g class="t2" text-anchor="middle">
<text x="187" y="2886">0</text><text x="378.3" y="2886">50</text><text x="569.5" y="2886">100</text><text x="760.8" y="2886">150</text><text x="952" y="2886">200</text><text x="1143.3" y="2886">250</text><text x="1334.5" y="2886">300</text><text x="1525.8" y="2886">350</text><text x="1717" y="2886">400</text>
</g>
<text class="yl" text-anchor="middle" transform="translate(89,2651) rotate(-90)">EVE（m / s）</text>
<text class="yl" text-anchor="middle" x="992" y="2941" style="font-size:38px">Time（s）</text>
<!-- EVE inset -->
<path class="gr" d="M2019 2469V2832M2094.5 2469V2832M2170 2469V2832M1946 2519H2199M1946 2601H2199M1946 2683H2199M1946 2765H2199"/>
<g clip-path="url(#k5)"><g transform="translate(-4096.5,2273) scale(15.1,-1640)">
<polyline class="c B" points="400,-0.21 402,-0.204 404,-0.197 406,-0.19 408,-0.185 410,-0.178 412,-0.173 414,-0.168 416,-0.163 417,-0.16"/>
<polyline class="c G" points="400,-0.24 402,-0.235 404,-0.228 406,-0.222 408,-0.217 410,-0.21 412,-0.205 414,-0.2 416,-0.195 417,-0.193"/>
<polyline class="c C" points="401,-0.345 402,-0.34 404,-0.335 406,-0.33 408,-0.33 409,-0.32 410,-0.31 411,-0.325 412,-0.33 414,-0.33 416,-0.325 417,-0.32"/>
<polyline class="c d B" points="400,-0.182 402,-0.175 404,-0.168 406,-0.16 408,-0.153 410,-0.147 412,-0.14 414,-0.135 416,-0.128 417,-0.125"/>
<polyline class="c d G" points="400,-0.225 402,-0.218 404,-0.21 406,-0.205 408,-0.195 409.5,-0.182 410,-0.178 411,-0.19 412,-0.19 414,-0.185 416,-0.18 417,-0.175"/>
<polyline class="c d C" points="400,-0.185 402,-0.178 404,-0.17 406,-0.16 408,-0.148 409,-0.14 410,-0.125 411,-0.138 412,-0.145 414,-0.14 416,-0.135 417,-0.13"/>
<polyline class="c M" points="400,-0.27 402,-0.262 404,-0.255 406,-0.25 408,-0.24 409,-0.235 410,-0.222 411,-0.24 412,-0.243 414,-0.24 416,-0.235 417,-0.228"/>
</g></g>
<rect class="ax" x="1946" y="2469" width="253" height="363"/>
<g class="t2" text-anchor="end">
<text x="1930" y="2532">-0.15</text><text x="1930" y="2614">-0.2</text><text x="1930" y="2696">-0.25</text><text x="1930" y="2778">-0.3</text>
</g>
<g class="t2" text-anchor="middle"><text x="2019" y="2886">405</text><text x="2094.5" y="2886">410</text><text x="2170" y="2886">415</text></g>
<ellipse cx="1783" cy="2695" rx="14" ry="35" fill="none" stroke="#000" stroke-width="3"/>
<line x1="1873" y1="2717" x2="1835" y2="2717" stroke="#000" stroke-width="4"/>
<polygon points="1820,2717 1844,2707 1838,2717 1844,2727" fill="#000"/>

<!-- ============ DVE ============ -->
<path class="gr" d="M378.3 2970V3319M569.5 2970V3319M760.8 2970V3319M952 2970V3319M1143.3 2970V3319M1334.5 2970V3319M1525.8 2970V3319M1717 2970V3319M187 2973.6H1784M187 3069.8H1784M187 3165.9H1784M187 3262H1784"/>
<rect class="ax" x="187" y="2970" width="1597" height="349"/>
<path class="tk" d="M378.3 3319v-15M569.5 3319v-15M760.8 3319v-15M952 3319v-15M1143.3 3319v-15M1334.5 3319v-15M1525.8 3319v-15M1717 3319v-15M187 2973.6h15M187 3069.8h15M187 3165.9h15M187 3262h15M1784 3069.8h-15M1784 3165.9h-15M1784 3262h-15"/>
<g transform="translate(187,2973.6) scale(3.825,-192.3)">
<polyline class="c B" points="0,0 418,0"/>
<polyline class="c G" points="0,0 418,0"/>
<polyline class="c C" points="0,0 418,0"/>
<polyline class="c d B" points="0,0 20,-0.03 30,-0.06 40,-0.05 60,-0.02 80,0.01 90,0.01 100,-0.01 150,-0.01 190,0.01 230,0 418,0"/>
<polyline class="c d G" points="0,0 20,-0.04 30,-0.07 40,-0.06 60,-0.03 80,0 90,0.01 100,-0.01 150,-0.01 190,0.01 230,0 418,0"/>
<polyline class="c d C" points="0,0 418,0"/>
<polyline class="c M" points="0,0 20,0.01 35,0.02 60,0.01 100,0 150,0 190,0.01 418,0"/>
<polyline class="c VG" points="0,0 20,-0.05 40,-0.13 60,-0.18 80,-0.2 85,-0.24 90,-0.2 100,-0.18 110,-0.17 120,-0.17 130,-0.2 150,-0.23 170,-0.25 180,-0.27 185,-0.35 190,-0.32 200,-0.25 205,-0.2 208,-0.22 210,-0.4 220,-0.37 240,-0.33 260,-0.3 280,-0.31 290,-0.25 300,-0.28 318,-0.26 320,-0.3 321,-0.85 324,-0.8 330,-1 340,-1.15 350,-1.25 360,-1.35 375,-1.45 390,-1.55 405,-1.65 418,-1.78"/>
<polyline class="c r R" points="0,0 50,-0.18 100,-0.36 150,-0.51 175,-0.59 200,-0.68 225,-0.77 250,-0.86 275,-0.95 300,-1.03 325,-1.12 350,-1.25 375,-1.38 400,-1.52 418,-1.6"/>
</g>
<g class="t2" text-anchor="end">
<text x="173" y="2986.6">0</text><text x="173" y="3083">-0.5</text><text x="173" y="3179">-1</text><text x="173" y="3275">-1.5</text>
</g>
<g class="t2" text-anchor="middle">
<text x="187" y="3370">0</text><text x="378.3" y="3370">50</text><text x="569.5" y="3370">100</text><text x="760.8" y="3370">150</text><text x="952" y="3370">200</text><text x="1143.3" y="3370">250</text><text x="1334.5" y="3370">300</text><text x="1525.8" y="3370">350</text><text x="1717" y="3370">400</text>
</g>
<text class="yl" text-anchor="middle" transform="translate(84,3141) rotate(-90)">DVE（m / s）</text>
<text class="yl" text-anchor="middle" x="992" y="3426" style="font-size:38px">Time（s）</text>
<!-- DVE inset -->
<path class="gr" d="M2004.5 2969V3321M2135 2969V3321M1945 3071H2202M1945 3175.5H2202M1945 3280H2202"/>
<g clip-path="url(#k6)"><g transform="translate(1939.25,2653) scale(0.6525,-209)">
<polyline class="c B" points="8,-2.95 20,-2.98 30,-3 60,-3 80,-2.96 100,-2.96 115,-2.93 140,-2.97 160,-2.99 180,-2.95 200,-2.97 220,-2.95 240,-2.95 260,-2.96 285,-2.96 295,-2.85 320,-2.82 350,-2.79 370,-2.78 390,-2.76 403,-2.77"/>
<polyline class="c G" points="300,-3.2 320,-3.18 350,-3.17 370,-3.15 403,-3.17"/>
<polyline class="c C" points="8,-1.85 20,-1.9 40,-1.95 60,-1.95 80,-1.93 100,-1.9 120,-1.87 140,-1.9 160,-1.92 180,-1.88 200,-1.9 220,-1.88 240,-1.89 260,-1.88 290,-1.89 295,-1.72 310,-1.67 330,-1.63 350,-1.6 370,-1.58 390,-1.56 403,-1.57"/>
<polyline class="c d B" points="8,-2.5 20,-2.53 40,-2.56 60,-2.56 80,-2.52 100,-2.5 120,-2.5 140,-2.52 160,-2.49 180,-2.5 200,-2.48 220,-2.5 240,-2.48 260,-2.46 280,-2.45 300,-2.42 320,-2.4 350,-2.38 370,-2.4 390,-2.35 403,-2.36"/>
<polyline class="c d G" points="8,-1.98 40,-2.07 80,-2.05 120,-2 160,-2.03 200,-2.02 290,-2.02 300,-1.85 350,-1.8 403,-1.78"/>
<polyline class="c d C" points="8,-2.02 40,-2.12 80,-2.09 120,-2.04 160,-2.08 200,-2.06 290,-2.05 300,-1.88 350,-1.83 403,-1.82"/>
<polyline class="c M" points="8,-1.95 20,-2 40,-2.03 60,-2.03 80,-2 100,-1.97 120,-1.95 140,-1.97 160,-1.99 180,-1.96 200,-1.97 240,-1.96 290,-1.96 295,-1.8 320,-1.76 350,-1.73 370,-1.72 390,-1.69 403,-1.7"/>
</g></g>
<rect class="ax" x="1945" y="2969" width="257" height="352"/>
<g class="t2" text-anchor="end">
<text x="1928" y="3084">-2</text><text x="1928" y="3188.5">-2.5</text><text x="1928" y="3293">-3</text>
</g>
<g class="t2" text-anchor="middle"><text x="2004.5" y="3372">414.8</text><text x="2135" y="3372">415</text></g>
<text class="t2" x="1949" y="2958">×10<tspan dy="-16" style="font-size:26px">-3</tspan></text>
<ellipse cx="1782" cy="2972" rx="18" ry="25" fill="none" stroke="#000" stroke-width="3"/>
<line x1="1871" y1="2972" x2="1826" y2="2972" stroke="#000" stroke-width="4"/>
<polygon points="1811,2972 1835,2962 1829,2972 1835,2982" fill="#000"/>

<!-- Caption (b) -->
<text class="cap" x="575" y="3524" textLength="1109" lengthAdjust="spacingAndGlyphs">(<tspan font-weight="bold">b</tspan>) Velocity error comparison.</text>
</svg>
</body></html>
